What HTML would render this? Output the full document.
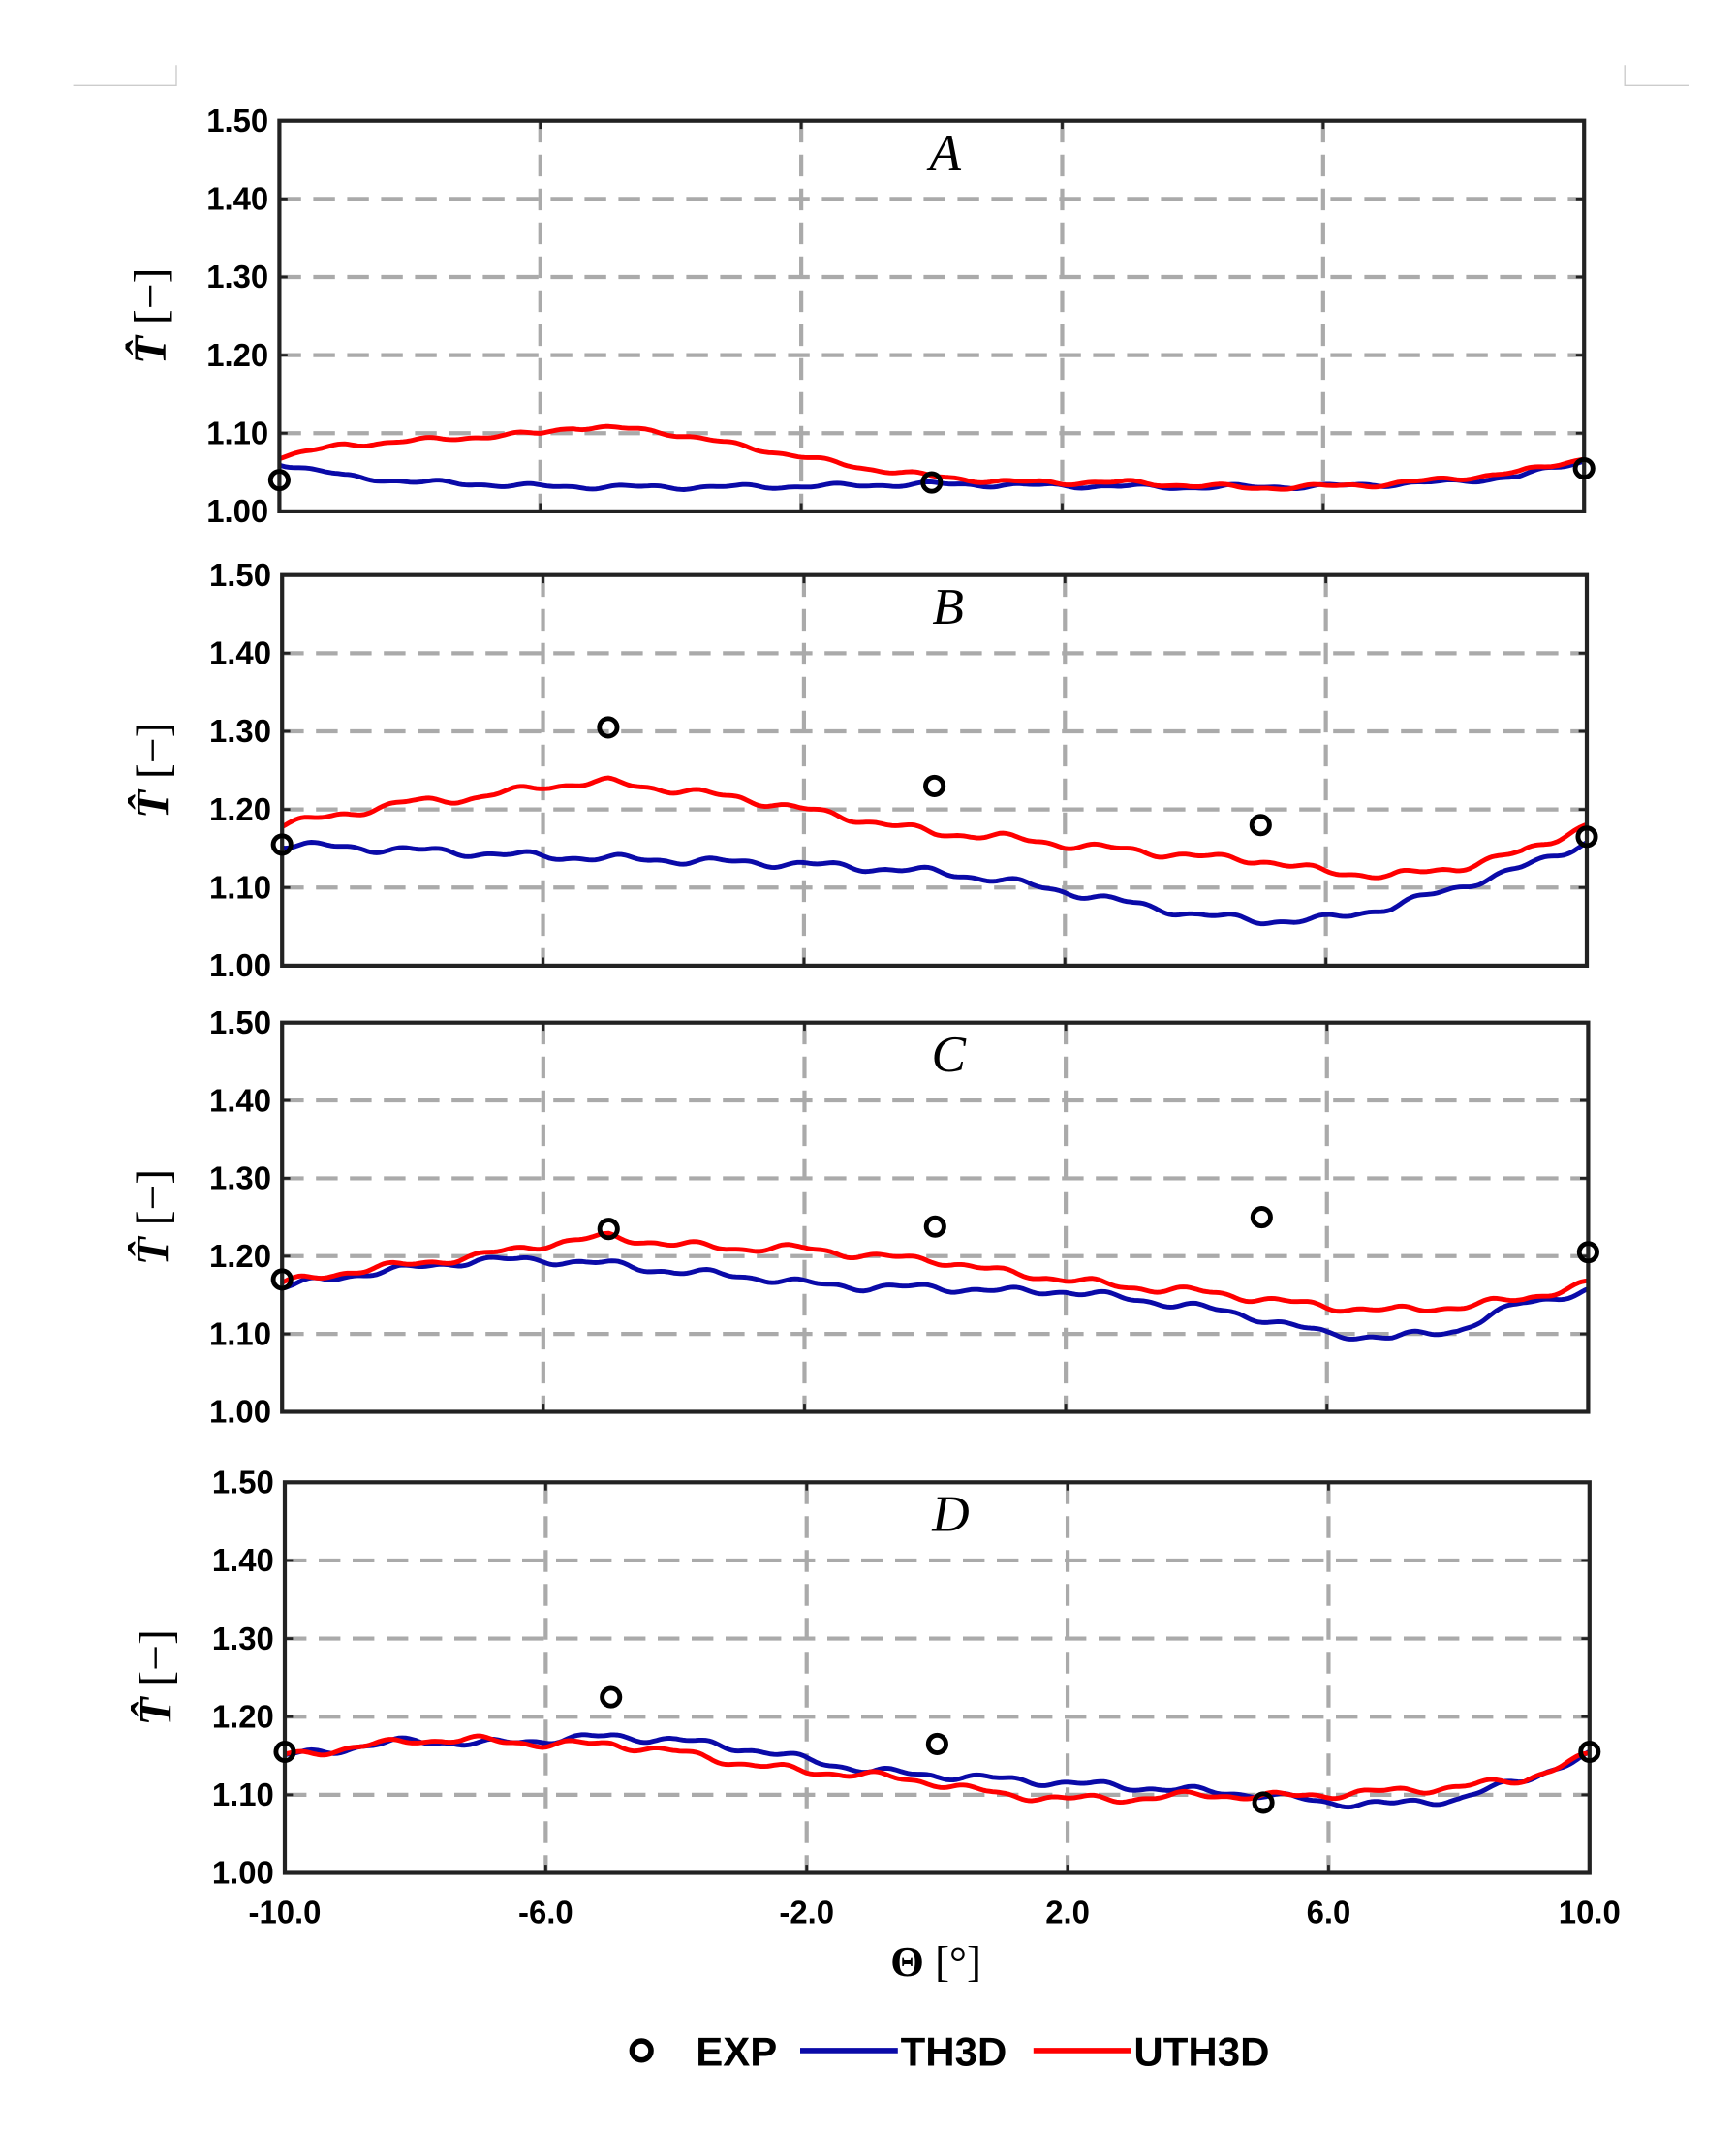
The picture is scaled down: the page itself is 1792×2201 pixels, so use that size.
<!DOCTYPE html>
<html><head><meta charset="utf-8">
<style>html,body{margin:0;padding:0;background:#fff;}svg{display:block;}</style>
</head><body>
<svg id="s" xmlns="http://www.w3.org/2000/svg" width="1792" height="2201" viewBox="0 0 1280 1572" font-family="Liberation Sans, sans-serif">
<rect width="1280" height="1572" fill="#fff"/>
<g stroke="#ccc" stroke-width="1" fill="none">
<path d="M54 63H130V48"/><path d="M1245 63H1198V48"/>
</g>
<g id="g"></g>
<text x="690" y="1457" font-size="32" font-weight="bold" text-anchor="middle" font-family="Liberation Serif, serif">Θ <tspan font-weight="normal">[°]</tspan></text>
<g font-size="30" font-weight="bold">
<circle cx="473" cy="1512" r="7" fill="none" stroke="#000" stroke-width="4"/>
<text x="513" y="1523">EXP</text>
<line x1="590" y1="1512" x2="662" y2="1512" stroke="#0a0aa8" stroke-width="4"/>
<text x="664" y="1523">TH3D</text>
<line x1="762" y1="1512" x2="834" y2="1512" stroke="#f00" stroke-width="4"/>
<text x="836" y="1523">UTH3D</text>
</g>
</svg>
<script>
const panels=[
{x0:206,x1:1168,y0:89,y1:377,L:'A',w:0.6,
r:[[-10,1.07],[-9,1.085],[-8,1.09],[-7,1.095],[-6,1.10],[-5.5,1.108],[-4.5,1.105],[-4,1.10],[-3,1.085],[-2,1.07],[-1,1.055],[0,1.045],[1,1.038],[2,1.037],[3,1.037],[4,1.033],[5,1.03],[6,1.032],[7,1.035],[8,1.042],[9,1.05],[10,1.068]],
b:[[-10,1.062],[-9,1.045],[-8,1.038],[-7,1.035],[-6,1.032],[-4,1.031],[-2,1.032],[0,1.035],[2,1.033],[4,1.031],[6,1.032],[8,1.038],[9,1.045],[10,1.065]],
e:[[-10,1.04],[0,1.037],[10,1.055]]},
{x0:208,x1:1170,y0:424,y1:712,L:'B',w:1,
r:[[-10,1.18],[-9,1.195],[-8,1.21],[-7,1.215],[-6,1.23],[-5,1.235],[-4,1.225],[-3,1.215],[-2,1.20],[-1,1.185],[0,1.17],[1,1.165],[2,1.155],[3,1.148],[4,1.14],[5,1.135],[6,1.12],[7,1.115],[8,1.125],[9,1.145],[10,1.18]],
b:[[-10,1.155],[-8,1.148],[-6,1.14],[-4,1.135],[-2,1.13],[0,1.12],[1,1.11],[2,1.095],[3,1.08],[4,1.065],[5,1.058],[5.5,1.057],[6,1.06],[7,1.075],[8,1.10],[9,1.125],[10,1.158]],
e:[[-10,1.155],[-5,1.305],[0,1.23],[5,1.18],[10,1.165]]},
{x0:208,x1:1171,y0:754,y1:1041,L:'C',w:1,
r:[[-10,1.165],[-9,1.18],[-8,1.19],[-7,1.20],[-6,1.215],[-5,1.225],[-4,1.215],[-3,1.21],[-2,1.21],[-1,1.20],[0,1.195],[1,1.18],[2,1.17],[3,1.16],[4,1.155],[5,1.145],[6,1.135],[7,1.13],[8,1.135],[9,1.145],[10,1.165]],
b:[[-10,1.16],[-9,1.175],[-8,1.185],[-7,1.195],[-6,1.195],[-5,1.19],[-4,1.18],[-3,1.175],[-2,1.165],[-1,1.16],[0,1.16],[1,1.155],[2,1.155],[3,1.145],[4,1.135],[5,1.12],[6,1.10],[7,1.095],[8,1.105],[9,1.14],[10,1.155]],
e:[[-10,1.17],[-5,1.235],[0,1.238],[5,1.25],[10,1.205]]},
{x0:210,x1:1172,y0:1093,y1:1381,L:'D',w:1,
r:[[-10,1.15],[-9,1.16],[-8,1.17],[-7,1.17],[-6,1.165],[-5,1.165],[-4,1.155],[-3,1.14],[-2,1.13],[-1,1.125],[0,1.115],[1,1.10],[2,1.095],[3,1.095],[4,1.10],[5,1.098],[6,1.10],[7,1.105],[8,1.11],[9,1.12],[10,1.15]],
b:[[-10,1.15],[-9,1.16],[-8,1.17],[-7,1.165],[-6,1.17],[-5,1.175],[-4,1.17],[-3,1.16],[-2,1.145],[-1,1.13],[0,1.125],[1,1.12],[2,1.115],[3,1.11],[4,1.105],[5,1.10],[6,1.09],[7,1.088],[8,1.095],[9,1.12],[10,1.15]],
e:[[-10,1.155],[-5,1.225],[0,1.165],[5,1.09],[10,1.155]]}
];
function interp(pts,x){for(let i=0;i<pts.length-1;i++){if(x>=pts[i][0]&&x<=pts[i+1][0]){const t=(x-pts[i][0])/(pts[i+1][0]-pts[i][0]);return pts[i][1]+t*(pts[i+1][1]-pts[i][1]);}}return pts[pts.length-1][1];}
let h='';
panels.forEach((p,pi)=>{
 const X=v=>p.x0+(v+10)/20*(p.x1-p.x0), Y=v=>p.y1-(v-1)/0.5*(p.y1-p.y0);
 for(let k=1;k<5;k++){const y=Y(1+k*0.1);h+=`<line x1="${p.x0}" x2="${p.x1}" y1="${y}" y2="${y}" stroke="#aaa" stroke-width="3" stroke-dasharray="16 9"/>`;}
 [-6,-2,2,6].forEach(v=>{const x=X(v);h+=`<line x1="${x}" x2="${x}" y1="${p.y0}" y2="${p.y1}" stroke="#aaa" stroke-width="3" stroke-dasharray="16 9"/>`;});
 for(let k=0;k<=5;k++){const v=1+k*0.1,y=Y(v);h+=`<text x="${p.x0-8}" y="${y+8}" font-size="23.5" font-weight="bold" text-anchor="end">${v.toFixed(2)}</text>`;
  h+=`<line x1="${p.x0}" x2="${p.x0+6}" y1="${y}" y2="${y}" stroke="#222" stroke-width="2"/><line x1="${p.x1}" x2="${p.x1-6}" y1="${y}" y2="${y}" stroke="#222" stroke-width="2"/>`;}
 [-10,-6,-2,2,6,10].forEach(v=>{const x=X(v);h+=`<line x1="${x}" x2="${x}" y1="${p.y1}" y2="${p.y1-6}" stroke="#222" stroke-width="2"/><line x1="${x}" x2="${x}" y1="${p.y0}" y2="${p.y0+6}" stroke="#222" stroke-width="2"/>`;});
 const cy=(p.y0+p.y1)/2;
 h+=`<text transform="translate(${p.x0-84},${cy}) rotate(-90)" font-size="34" text-anchor="middle" font-family="Liberation Serif, serif"><tspan font-weight="bold" font-style="italic">T̂</tspan> [−]</text>`;
 h+=`<text x="${(p.x0+p.x1)/2+10}" y="${p.y0+36}" font-size="38" font-style="italic" text-anchor="middle" font-family="Liberation Serif, serif">${p.L}</text>`;
 [['b','#0a0aa8',1.3],['r','#f00',2.1]].forEach(([k,c,ph])=>{
  let d='';for(let i=0;i<=400;i++){const v=-10+i*0.05;const y=interp(p[k],v)+p.w*0.0035*Math.sin(v*4.1+ph+pi)+p.w*0.002*Math.sin(v*9.3+ph*2);d+=(i?'L':'M')+X(v).toFixed(1)+' '+Y(y).toFixed(1);}
  h+=`<path d="${d}" fill="none" stroke="${c}" stroke-width="3.5" stroke-linejoin="round"/>`;});
 h+=`<rect x="${p.x0}" y="${p.y0}" width="${p.x1-p.x0}" height="${p.y1-p.y0}" fill="none" stroke="#222" stroke-width="3"/>`;
 p.e.forEach(([a,b])=>{h+=`<circle cx="${X(a)}" cy="${Y(b)}" r="6.5" fill="none" stroke="#000" stroke-width="3.5"/>`;});
 if(pi==3){[-10,-6,-2,2,6,10].forEach(v=>{h+=`<text x="${X(v)}" y="${p.y1+37}" font-size="23.5" font-weight="bold" text-anchor="middle">${v.toFixed(1)}</text>`;});}
});
document.getElementById('g').innerHTML=h;
</script>
</body></html>
